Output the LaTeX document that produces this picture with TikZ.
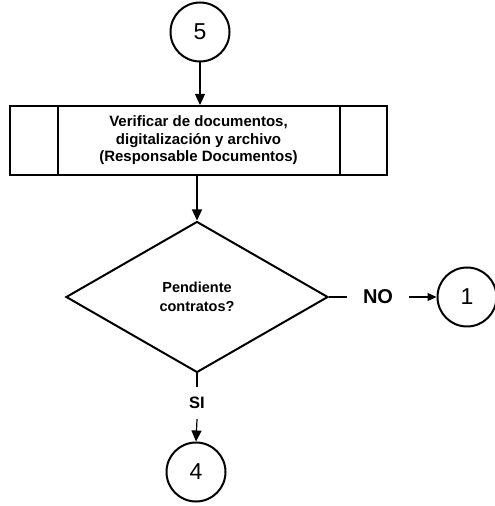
\documentclass[tikz,border=0pt]{standalone}
\usepackage{fontspec}
\setmainfont{Liberation Sans}
\usetikzlibrary{shapes.geometric,arrows.meta}

\tikzset{
  conn/.style = {circle, draw, line width=2pt, minimum size=59pt, inner sep=0pt, font=\fontsize{23}{24}\selectfont},
  subproc/.style = {rectangle, draw, line width=2pt, minimum width=377pt, minimum height=69pt, align=center,
    font=\bfseries\fontsize{15}{17.5}\selectfont,
    path picture={
      \draw[line width=2pt] ([xshift=48pt]path picture bounding box.north west) -- ([xshift=48pt]path picture bounding box.south west);
      \draw[line width=2pt] ([xshift=-47pt]path picture bounding box.north east) -- ([xshift=-47pt]path picture bounding box.south east);
    }},
  dec/.style = {diamond, draw, line width=2pt, minimum width=262pt, minimum height=151pt, inner sep=0pt, align=center,
    font=\bfseries\fontsize{14.5}{19.5}\selectfont},
  flow/.style = {line width=1.2pt, -{Triangle[length=11pt,width=10pt]}},
}

\begin{document}
\begin{tikzpicture}[x=1pt, y=1pt]
\useasboundingbox (0,0) rectangle (495,506);

\node[conn] (c5) at (200,474) {5};
\node[subproc] (verif) at (198.5,365.5) {Verificar de documentos,\\digitalización y archivo\\(Responsable Documentos)};
\node[dec] (pend) at (197,209) {Pendiente\\contratos?};
\node[minimum width=62pt, inner sep=0pt, font=\bfseries\fontsize{20}{20}\selectfont] (no) at (378,209) {NO};
\node[conn] (c1) at (467,209) {1};
\node[minimum height=32pt, inner sep=0pt, font=\bfseries\fontsize{16.5}{18}\selectfont] (si) at (197,103) {SI};
\node[conn] (c4) at (196,34) {4};

\draw[flow] (c5) -- (c5 |- verif.north);
\draw[flow] (pend |- verif.south) -- (pend.north);
%branches
\draw[line width=1.2pt] (pend.east) -- (no.west);
\draw[flow, -{Triangle[length=9pt,width=8pt]}] (no.east) -- (c1.west);
\draw[line width=1.2pt] (pend.south) -- (si.north);
\draw[flow] (si.south) -- (c4.north);

\end{tikzpicture}
\end{document}
